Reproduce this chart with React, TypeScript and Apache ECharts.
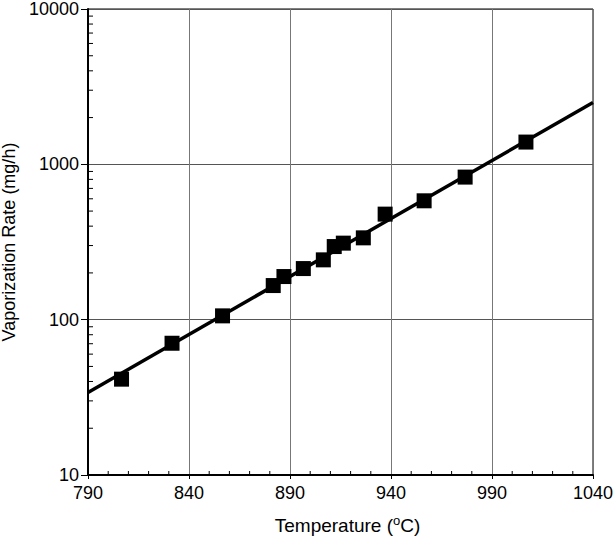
import React, { useEffect, useRef } from "react";
import * as echarts from "echarts";

const X_MIN = 790;
const X_MAX = 1040;
const X_STEP = 50;
const Y_MIN = 10;
const Y_MAX = 10000;

const temperatures = [806.6, 831.6, 856.6, 881.7, 887.0, 896.6, 906.5, 911.9, 916.4, 926.3, 937.1, 956.4, 976.7, 1006.8];
const rates = [41.4, 70.5, 105.8, 165.8, 189.5, 213.3, 242.7, 295.6, 310.9, 336.3, 478, 582.4, 827.6, 1391];

const fitTemperatures = [790, 1040];
const fitRates = [34, 2500];

const yMinorTicks = [20, 30, 40, 50, 60, 70, 80, 90, 200, 300, 400, 500, 600, 700, 800, 900, 2000, 3000, 4000, 5000, 6000, 7000, 8000, 9000];
const xMinorTicks = [800, 810, 820, 830, 850, 860, 870, 880, 900, 910, 920, 930, 950, 960, 970, 980, 1000, 1010, 1020, 1030];

const FONT = "'Liberation Sans', Arial, Helvetica, sans-serif";

export default function App() {
  const ref = useRef<HTMLDivElement>(null);
  useEffect(() => {
    if (!ref.current) return;
    const chart = echarts.init(ref.current, null, { renderer: "svg" });
    const off = (t: number) => t - X_MIN;
    chart.setOption({
      animation: false,
      backgroundColor: "#fff",
      grid: {
        left: 88,
        right: 22,
        top: 9,
        bottom: 61,
        containLabel: false,
        outerBoundsMode: "none",
        show: true,
        borderColor: "#000",
        borderWidth: 1,
        backgroundColor: "transparent",
      },
      xAxis: {
        type: "value",
        min: 0,
        max: X_MAX - X_MIN,
        interval: X_STEP,
        name: "Temperature ({sup|o}C)",
        nameLocation: "middle",
        nameGap: 39,
        nameTextStyle: {
          fontFamily: FONT,
          fontSize: 19,
          color: "#000",
          padding: [0, 0, 0, 14],
          rich: {
            sup: { fontFamily: FONT, fontSize: 13, color: "#000", padding: [0, 0, 9, 0] },
          },
        },
        axisLine: { show: true, lineStyle: { color: "#000", width: 2 } },
        axisTick: { show: true, length: 4, lineStyle: { color: "#000" } },
        axisLabel: {
          formatter: (v: number) => String(v + X_MIN),
          fontFamily: FONT,
          fontSize: 18,
          color: "#000",
          margin: 9,
        },
        splitLine: { show: true, lineStyle: { color: "#777", width: 1 } },
      },
      yAxis: {
        type: "log",
        logBase: 10,
        min: Y_MIN,
        max: Y_MAX,
        name: "Vaporization Rate (mg/h)",
        nameLocation: "middle",
        nameGap: 68,
        nameTextStyle: { fontFamily: FONT, fontSize: 18, color: "#000" },
        axisLine: { show: true, lineStyle: { color: "#000", width: 2 } },
        axisTick: { show: true, length: 7, lineStyle: { color: "#000" } },
        axisLabel: {
          formatter: (v: number) => String(Math.round(v)),
          fontFamily: FONT,
          fontSize: 18,
          color: "#000",
          margin: 9,
        },
        splitLine: { show: true, lineStyle: { color: "#555", width: 1 } },
      },
      series: [
        {
          type: "custom",
          silent: true,
          data: yMinorTicks.map((v) => [0, v]),
          renderItem: (params: any, api: any) => {
            const p = api.coord([api.value(0), api.value(1)]);
            return {
              type: "line",
              shape: { x1: p[0], y1: p[1], x2: p[0] + 5, y2: p[1] },
              style: { stroke: "#000", lineWidth: 1 },
            };
          },
          z: 5,
        },
        {
          type: "custom",
          silent: true,
          data: xMinorTicks.map((t) => [off(t), Y_MIN]),
          renderItem: (params: any, api: any) => {
            const p = api.coord([api.value(0), api.value(1)]);
            return {
              type: "line",
              shape: { x1: p[0], y1: p[1], x2: p[0], y2: p[1] - 4 },
              style: { stroke: "#000", lineWidth: 1 },
            };
          },
          z: 5,
        },
        {
          type: "line",
          data: fitTemperatures.map((t, i) => [off(t), fitRates[i]]),
          showSymbol: false,
          symbol: "none",
          lineStyle: { color: "#000", width: 3.5 },
          z: 2,
        },
        {
          type: "scatter",
          data: temperatures.map((t, i) => [off(t), rates[i]]),
          symbol: "rect",
          symbolSize: 15,
          itemStyle: { color: "#000", opacity: 1 },
          z: 3,
        },
      ],
    });
    return () => chart.dispose();
  }, []);
  return (
    <div
      ref={ref}
      style={{ position: "absolute", left: 0, top: 0, width: 615, height: 536, background: "#fff" }}
    />
  );
}
